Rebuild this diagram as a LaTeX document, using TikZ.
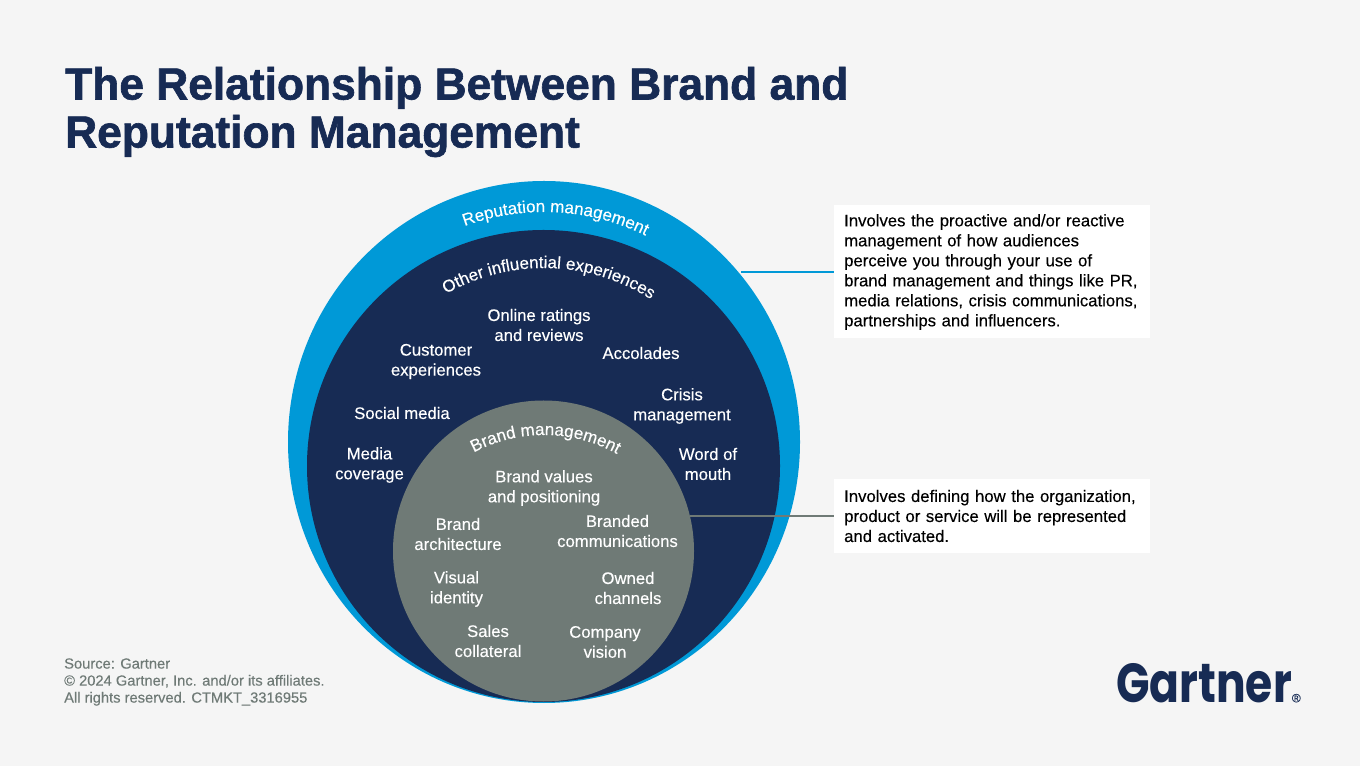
\documentclass[tikz,border=0pt]{standalone}
\usepackage{fontspec}
\setmainfont[FakeBold=0.25]{Liberation Sans}
\newfontfamily\titlefont[BoldFont={Liberation Sans Bold},BoldFeatures={FakeBold=1.4,FakeStretch=0.985}]{Liberation Sans}
\newfontfamily\logofont{Poppins}
\usetikzlibrary{shapes.geometric,decorations.text}
\definecolor{pagegray}{HTML}{F5F5F5}
\definecolor{repblue}{HTML}{0099D7}
\definecolor{navy}{HTML}{172B54}
\definecolor{brandgray}{HTML}{6F7A76}
\newcommand{\arcfont}{\color{white}\fontsize{17}{17}\selectfont}
\pgfdeclarelayer{shapes}
\pgfdeclarelayer{links}
\pgfsetlayers{shapes,links,main}
\tikzset{
	item/.style={text=white, align=center, font=\fontsize{16.7}{20}\selectfont, inner sep=0pt},
	notebox/.style={fill=white, text=black, align=left, anchor=west, font=\fontsize{16.7}{20}\selectfont, minimum width=316pt, text width=296pt, inner sep=0pt},
	disc/.style={ellipse, inner sep=0pt},
}
\begin{document}
\begin{tikzpicture}[x=1pt, y=1pt]
	\useasboundingbox (0,0) rectangle (1360,766);
	\begin{pgfonlayer}{shapes}
		\fill [pagegray] (0,0) rectangle (1360,766);
		\node at (544,324) [disc, fill=repblue, minimum width=512pt, minimum height=522pt] (reputation) {};
		\node at (543.5,300) [disc, fill=navy, minimum width=473pt, minimum height=472pt] (influence) {};
		\node at (543.5,215) [disc, fill=brandgray, minimum width=301pt, minimum height=301pt] (brand) {};
	\end{pgfonlayer}

	\node at (65,654) [anchor=west, align=left, text=navy, inner sep=0pt, font=\titlefont\bfseries\fontsize{45}{48}\selectfont] (title) {The Relationship Between Brand and\\Reputation Management};

	\path [decorate, decoration={text along path, text align=center, text={|\arcfont|Reputation management}}] ([shift={(117:230)}]544,324) arc (117:57:230);
	\path [decorate, decoration={text along path, text align=center, text={|\arcfont|Other influential experiences}}] ([shift={(128.5:198)}]544,300) arc (128.5:48.5:198);
	\path [decorate, decoration={text along path, text align=center, text={|\arcfont|Brand management}}] ([shift={(119.4:150)}]544,181) arc (119.4:59.4:150);

	\node at (539,441) [item] (ratings) {Online ratings\\and reviews};
	\node at (436,404.5) [item] (customer) {Customer\\experiences};
	\node at (641,413) [item] (accolades) {Accolades};
	\node at (682,360) [item] (crisis) {Crisis\\management};
	\node at (402,353) [item] (social) {Social media};
	\node at (369.5,301) [item] (media) {Media\\coverage};
	\node at (708,302) [item] (word) {Word of\\mouth};

	\node at (544,278) [item] (values) {Brand values\\and positioning};
	\node at (458,232) [item] (architecture) {Brand\\architecture};
	\node at (617.5,235) [item] (communications) {Branded\\communications};
	\node at (456.5,177) [item] (identity) {Visual\\identity};
	\node at (628,178) [item] (channels) {Owned\\channels};
	\node at (488,125) [item] (collateral) {Sales\\collateral};
	\node at (605,124) [item] (vision) {Company\\vision};

	\node at (834,494) [notebox, minimum height=133pt] (repnote) {Involves the proactive and/or reactive\\management of how audiences\\perceive you through your use of\\brand management and things like PR,\\media relations, crisis communications,\\partnerships and influencers.};
	\node at (834,250) [notebox, minimum height=74pt] (brandnote) {Involves defining how the organization,\\product or service will be represented\\and activated.};

	\coordinate (replink) at (741,494);
	\coordinate (brandlink) at (690,250);
	\begin{pgfonlayer}{links}
		\draw [repblue, line width=1.3pt] (replink) -- (repnote.west);
		\draw [brandgray, line width=1.3pt] (brandlink) -- (brandnote.west);
	\end{pgfonlayer}

	\node at (64,84) [anchor=west, align=left, text=brandgray, inner sep=0pt, font=\fontsize{14.7}{17}\selectfont] (source) {Source: Gartner\\\textcopyright{} 2024 Gartner, Inc. and/or its affiliates.\\All rights reserved. CTMKT\_3316955};

	\node at (1116,83) [anchor=west, text=navy, inner sep=0pt, font=\logofont\bfseries\fontsize{55}{55}\selectfont] (logo) {\scalebox{0.8}[1]{Gartner}{\normalfont\fontsize{12}{12}\selectfont\textregistered}};
\end{tikzpicture}
\end{document}
